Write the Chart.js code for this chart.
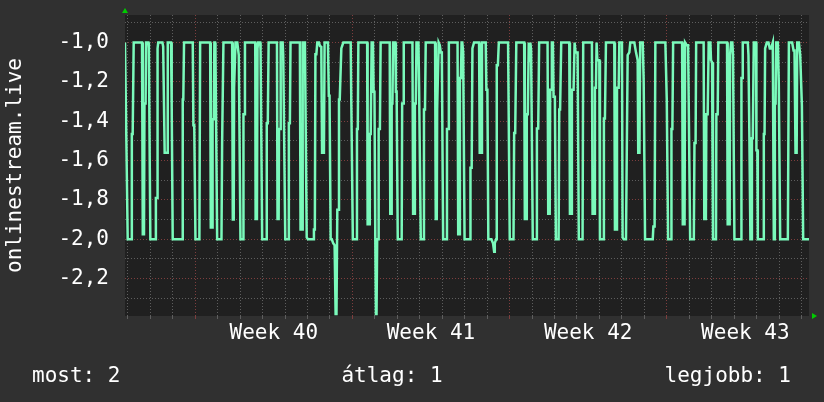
<!DOCTYPE html>
<html><head><meta charset="utf-8">
<script src="https://cdn.jsdelivr.net/npm/chart.js@4/dist/chart.umd.min.js"></script>
<style>html,body{margin:0;padding:0;background:#303030;}canvas{display:block}</style>
</head><body>
<canvas id="c" width="824" height="402"></canvas>
<script>
// ---- labels / ticks ----
const yAxisTitle = 'onlinestream.live';
const weekLabels = ['Week 40', 'Week 41', 'Week 42', 'Week 43'];
const weekLabelHours = [159, 327, 495, 663];          // middle of each week (hours from left edge)
const weekStartHours = [75, 243, 411, 579];           // Monday 00:00 of each week
const dayLineHours = [3, 27, 51, 75, 99, 123, 147, 171, 195, 219, 243, 267, 291, 315, 339, 363,
  387, 411, 435, 459, 483, 507, 531, 555, 579, 603, 627, 651, 675, 699, 723];
const yTickValues = [-2.3, -2.2, -2.1, -2.0, -1.9, -1.8, -1.7, -1.6, -1.5, -1.4, -1.3, -1.2, -1.1, -1.0, -0.9];
const yLabelValues = [-2.2, -2.0, -1.8, -1.6, -1.4, -1.2, -1.0];
const summaryLabels = ['most: 2', 'átlag: 1', 'legjobb: 1'];
const yMin = -2.39, yMax = -0.86, xMin = 0, xMax = 731;

// ---- series: [hour, value] ----
const tailWeek39 = [[0,-1.0],[1,-1.0],[2.9,-2.0],[6.8,-2.0],[7.3,-1.465],[8.2,-1.465],[9.3,-1.0],[18.2,-1.0],[19,-1.975],[20.3,-1.975],[20.8,-1.31],[22,-1.31],[22.5,-1.0],[25,-1.0],[25.5,-1.03],[27.1,-2.0],[32.5,-2.0],[33,-1.79],[34.2,-1.79],[34.8,-1.03],[35.5,-1.0],[40,-1.0],[40.8,-1.02],[42.4,-1.56],[44.9,-1.56],[45.7,-1.0],[49.2,-1.0],[49.6,-1.32],[50.2,-1.32],[51,-2.0],[61,-2.0],[61.7,-1.29],[62.3,-1.29],[63.1,-1.0],[72.4,-1.0],[73.1,-1.42],[74,-1.42],[75.3,-2.0]];
const week40 = [[79.5,-2.0],[80.3,-1.0],[91,-1.0],[91.7,-1.94],[93.1,-1.94],[93.6,-1.39],[94.9,-1.39],[95.5,-1.0],[96.2,-1.0],[96.7,-1.06],[98.5,-2.0],[103.1,-2.0],[103.8,-1.51],[104.6,-1.51],[105.2,-1.0],[114.5,-1.0],[115.2,-1.9],[116.2,-1.9],[116.6,-1.23],[117.5,-1.23],[118.1,-1.0],
 [120,-1.0],[121.6,-1.064],[123.4,-2.0],[126.2,-2.0],[126.6,-1.364],[127.2,-1.364],[128.2,-1.0],[139.2,-1.0],[139.6,-1.897],[141,-1.897],[141.6,-1.03],[142.3,-1.0],[144.5,-1.0],[144.9,-1.04],[146.6,-2.0],[151.2,-2.0],[151.5,-1.41],[152.6,-1.41],[153.5,-1.0],[162.4,-1.0],[163,-1.897],[164.2,-1.897],[164.6,-1.44],[165.8,-1.44],[166.4,-1.0],[168.5,-1.0],[169.1,-1.064],[171.3,-2.0],[174.4,-2.0],[175.1,-1.41],[176.2,-1.41],[176.9,-1.0],[186.9,-1.0],[187.6,-1.95],[189.4,-1.95],[189.9,-1.0],[192.3,-1.0],[194.2,-1.99],[195.5,-2.0],[201.2,-2.0],[201.9,-1.95],[202.9,-1.95],[203.5,-1.06],[204.5,-1.06],[205.5,-1.0],[207.3,-1.0],[208.3,-1.017],[209.8,-1.022],[210.6,-1.56],[212.6,-1.56],[213.3,-1.0],[216.9,-1.0],[217.8,-1.27],[218.6,-1.27],[219.8,-2.0],[221,-2.0],[222.5,-2.02],[224,-2.03],[225.1,-2.38],[226,-2.38],[226.9,-1.85],[227.8,-1.85],[228.7,-1.29],[229.5,-1.29],[231.2,-1.03],[233.3,-1.0],[241.2,-1.0],[241.9,-1.32],[242.5,-1.32]];
const week41 = [[243.5,-2.0],[247.5,-2.0],[247.9,-1.44],[248.8,-1.44],[249.4,-1.0],[258.8,-1.0],[259.3,-1.924],[261.2,-1.924],[261.6,-1.465],[262.6,-1.465],[263.6,-1.0],[265,-1.0],[265.7,-1.25],[266.6,-1.25],[267.5,-2.0],[268.2,-2.38],[268.8,-2.38],[269.5,-2.0],[270.5,-2.0],[271.1,-1.44],[272.4,-1.44],[273.2,-1.0],[282.9,-1.0],[283.5,-1.87],[284.4,-1.87],[285,-1.31],[285.8,-1.31],[286.5,-1.0],[288.9,-1.0],[289.5,-1.25],[290.3,-1.25],[291.5,-2.0],[295.7,-2.0],[296.2,-1.31],[297.2,-1.31],[297.9,-1.0],[307.2,-1.0],[307.9,-1.87],[309.4,-1.87],[309.8,-1.31],[310.8,-1.31],[311.5,-1.0],[313.6,-1.0],[314.3,-1.225],[315,-1.225],[316.1,-2.0],[318.9,-2.0],[319.5,-1.34],[320.6,-1.34],[321.4,-1.0],[331.4,-1.0],[332.1,-1.897],[333.2,-1.897],[333.6,-1.34],[334.5,-1.34],[335.2,-1.0],[336.4,-1.013],[337.5,-1.05],[338.6,-1.05],[340,-2.0],[343.6,-2.0],[344.1,-1.44],[345.3,-1.44],[346.1,-1.0],[355.4,-1.0],[356.1,-1.975],[357.4,-1.975],[357.9,-1.18],[359,-1.18],[359.7,-1.0],[360.5,-1.0],[361.4,-1.05],[362.9,-2.0],
 [368.8,-2.0],[369.2,-1.636],[370.5,-1.636],[371.3,-1.03],[373,-1.0],[378.4,-1.0],[379.1,-1.56],[380.5,-1.56],[381.5,-1.0],[385.5,-1.0],[386.2,-1.24],[387.3,-1.24],[388.3,-2.0],[391.6,-2.0],[393.3,-2.02],[394.5,-2.063],[395.2,-2.02],[396.6,-2.0],[397.3,-1.115],[398.5,-1.115],[399.5,-1.0],[409.4,-1.0],[411.2,-2.0]];
const week42 = [[415.2,-2.0],[415.9,-1.46],[417,-1.46],[418.2,-1.0],[426.6,-1.0],[427.3,-1.897],[428.9,-1.897],[429.4,-1.364],[430.5,-1.364],[431.5,-1.0],[432.5,-1.04],[433.2,-1.0],[434,-1.04],[435.8,-2.0],[439.8,-2.0],[440.2,-1.437],[441.6,-1.437],[442.6,-1.0],[451.6,-1.0],[452.3,-1.87],[453.9,-1.87],[454.4,-1.24],[455.5,-1.24],[456.2,-1.0],[457.3,-1.0],[458,-1.276],[459.4,-1.276],[460.5,-2.0],[463.4,-2.0],[464.1,-1.34],[465,-1.34],[466.2,-1.0],[474.8,-1.0],[475.5,-1.87],[477,-1.87],[477.6,-1.24],[479.4,-1.24],[480.5,-1.0],[481.5,-1.05],[483.7,-1.05],[485,-2.0],
 [489,-2.0],[489.7,-1.0],[499,-1.0],[499.7,-1.87],[501.8,-1.87],[502.2,-1.23],[503.3,-1.23],[504,-1.0],[504.8,-1.09],[506.9,-1.09],[507.6,-2.0],[511.5,-2.0],[511.8,-1.386],[512.9,-1.386],[514,-1.0],[522.9,-1.0],[523.6,-1.95],[525.4,-1.95],[525.8,-1.23],[527.6,-1.23],[528.3,-1.0],[531.1,-1.0],[531.8,-1.99],[533,-2.0],[535.4,-2.0],[537.2,-1.064],[539,-1.05],[540,-1.0],[544.3,-1.0],[546.1,-1.05],[547.9,-1.09],[548.5,-1.56],[549.8,-1.56],[550.6,-1.0],[553.3,-1.0],[554.3,-1.19],[555.8,-2.0],[564,-2.0],[564.7,-1.935],[566,-1.935],[566.8,-1.0],[577.5,-1.0],[579,-1.29]];
const week43 = [[580.4,-2.0],[583.6,-2.0],[584,-1.44],[585,-1.44],[585.8,-1.0],[595.4,-1.0],[596.1,-1.924],[598,-1.924],[598.6,-1.0],[600.4,-1.014],[601.8,-1.014],[604,-2.0],[607.9,-2.0],[608.6,-1.51],[609.8,-1.51],[610.4,-1.0],
 [618.4,-1.0],[619.1,-1.897],[620.8,-1.897],[621.3,-1.364],[622.7,-1.364],[623.8,-1.0],[625.6,-1.0],[626.3,-1.09],[627.4,-1.1],[628.4,-2.0],[631.6,-2.0],[632,-1.364],[633.4,-1.364],[634.1,-1.0],[643.4,-1.0],[644.1,-1.924],[646.2,-1.924],[646.6,-1.064],[647.7,-1.0],[649.1,-1.0],[649.8,-1.064],[651.3,-2.0],[658.4,-2.0],[658.8,-1.18],[659.5,-1.18],[660.2,-1.0],[665.6,-1.0],[666.3,-1.064],[667.3,-1.487],[668.4,-2.0],[669.5,-2.0],[670,-1.487],[670.9,-1.487],[672,-1.0],[674.5,-1.0],[674.8,-1.547],[675.8,-1.547],[676.3,-2.0],[682,-2.0],[682.7,-1.465],[683.5,-1.465],[684.1,-1.03],[685.9,-1.0],[687.7,-1.0],[689.1,-1.03],[690.5,-1.03],[692.3,-1.0],[693.4,-2.0],[694.1,-2.0],[694.5,-1.31],[695.3,-1.31],[695.9,-1.0],[697.7,-1.0],[698.7,-1.2],[700.2,-2.0],[708.4,-2.0],[709.5,-1.0],[713,-1.0],[714.5,-1.04],[715.5,-1.04],[716.6,-1.56],[717.8,-1.56],[718.4,-1.0],[720.2,-1.0],[721.6,-1.064],[723.4,-1.32],[724.8,-2.0],[731,-2.0]];

const series = [...tailWeek39, ...week40, ...week41, ...week42, ...week43].map(p => ({x: p[0], y: p[1]}));

// ---- style ----
const FONT = 'DejaVu Sans Mono';
const OUTER_BG = '#303030', PLOT_BG = '#202020';
const GRID_MINOR = '#5e5e5e', GRID_MAJOR = '#7e3e3e';
const LINE_COLOR = '#7afabb';
const near = (a, b) => Math.abs(a - b) < 1e-6;
const isYMajor = v => yLabelValues.some(m => near(m, v));
const noPad = s => { s.paddingTop = 0; s.paddingBottom = 0; s.paddingLeft = 0; s.paddingRight = 0; };

const decor = {
  id: 'decor',
  beforeDraw(chart) {
    const {ctx, chartArea: a} = chart;
    ctx.save();
    ctx.fillStyle = OUTER_BG;
    ctx.fillRect(0, 0, chart.width, chart.height);
    ctx.fillStyle = PLOT_BG;
    ctx.fillRect(a.left, a.top, a.right - a.left, a.bottom - a.top);
    ctx.restore();
  },
  afterDraw(chart) {
    const {ctx, chartArea: a} = chart;
    ctx.save();
    ctx.fillStyle = '#00cc00';
    ctx.beginPath();
    ctx.moveTo(a.left - 3, a.top - 2); ctx.lineTo(a.left + 3, a.top - 2); ctx.lineTo(a.left, a.top - 7);
    ctx.closePath(); ctx.fill();
    ctx.beginPath();
    ctx.moveTo(a.right + 3, a.bottom - 3); ctx.lineTo(a.right + 3, a.bottom + 3); ctx.lineTo(a.right + 8, a.bottom);
    ctx.closePath(); ctx.fill();
    ctx.fillStyle = '#ffffff';
    ctx.font = '21px "' + FONT + '"';
    ctx.textBaseline = 'alphabetic';
    ctx.textAlign = 'left';
    ctx.fillText(summaryLabels[0], 32, 382);
    ctx.textAlign = 'center';
    ctx.fillText(summaryLabels[1], 392, 382);
    ctx.textAlign = 'right';
    ctx.fillText(summaryLabels[2], 791, 382);
    ctx.restore();
  }
};

Chart.defaults.font.family = FONT;
new Chart(document.getElementById('c'), {
  type: 'line',
  data: { datasets: [{ data: series, borderColor: LINE_COLOR, borderWidth: 2.5, pointRadius: 0, tension: 0, fill: false }] },
  options: {
    responsive: false, animation: false, devicePixelRatio: 1,
    layout: { padding: { top: 15, right: 15, left: 0, bottom: 0 } },
    plugins: { legend: { display: false }, tooltip: { enabled: false } },
    scales: {
      x: {
        type: 'linear', min: xMin, max: xMax,
        afterBuildTicks: s => { s.ticks = [...dayLineHours, ...weekLabelHours].sort((p, q) => p - q).map(v => ({value: v})); },
        afterFit: s => { s.height = 86; noPad(s); },
        grid: {
          color: c => { const v = c.tick ? c.tick.value : null; if (weekLabelHours.includes(v)) return 'rgba(0,0,0,0)'; return weekStartHours.includes(v) ? GRID_MAJOR : GRID_MINOR; },
          lineWidth: 1, drawTicks: true, tickLength: 3
        },
        border: { display: false, dash: [1, 2] },
        ticks: { autoSkip: false, maxRotation: 0, minRotation: 0, color: '#ffffff', font: { size: 21 }, padding: 2,
          callback: v => { const i = weekLabelHours.indexOf(v); return i >= 0 ? weekLabels[i] : ''; } }
      },
      y: {
        min: yMin, max: yMax,
        afterBuildTicks: s => { s.ticks = yTickValues.map(v => ({value: v})); },
        afterFit: s => { s.width = 125; noPad(s); },
        grid: { color: c => (c.tick && isYMajor(c.tick.value)) ? GRID_MAJOR : GRID_MINOR, drawTicks: false, lineWidth: 1 },
        border: { display: false, dash: [1, 2] },
        ticks: { autoSkip: false, color: '#ffffff', font: { size: 21 }, padding: 16,
          callback: v => isYMajor(v) ? v.toFixed(1).replace('.', ',') : '' },
        title: { display: true, text: yAxisTitle, color: '#ffffff', font: { size: 21 }, padding: { top: 3, bottom: 0 } }
      }
    }
  },
  plugins: [decor]
});
</script>
</body></html>
